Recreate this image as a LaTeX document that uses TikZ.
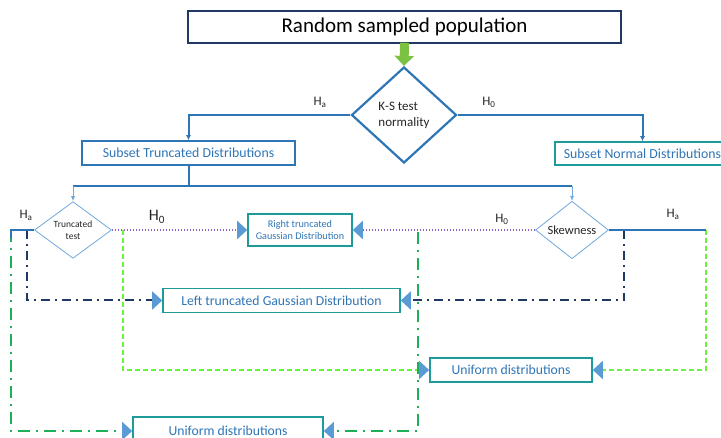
\documentclass[tikz,border=0pt]{standalone}
\usepackage{fontspec}
\setmainfont{Carlito}
\usetikzlibrary{positioning}
\usetikzlibrary{shapes.geometric}
\usetikzlibrary{arrows.meta}

\definecolor{navy}{HTML}{1F3864}
\definecolor{lineblue}{HTML}{2E75B6}
\definecolor{thinblue}{HTML}{6FA8DC}
\definecolor{tipblue}{HTML}{5B9BD5}
\definecolor{boxteal}{HTML}{1F9A9A}
\definecolor{purp}{HTML}{9060C8}
\definecolor{lgreen}{HTML}{6CF03C}
\definecolor{dgreen}{HTML}{1DB05A}
\definecolor{fatgreen}{HTML}{7CC242}

\begin{document}
\begin{tikzpicture}[x=1pt, y=-1pt,
    box/.style={draw=boxteal, line width=1.6pt, text=lineblue, align=center, inner sep=0pt},
    dec/.style={diamond, draw=thinblue, line width=0.8pt, text=black!85, align=center, inner sep=0pt},
    lab/.style={text=black!85, font=\fontsize{13}{15}\selectfont},
    bigtip/.style={-{Triangle[width=18pt,length=10pt,color=tipblue,fill=tipblue]}},
    solidblue/.style={draw=lineblue, line width=2pt},
    dotline/.style={bigtip, draw=purp, line width=2pt, dash pattern=on 1.5pt off 1.5pt},
    ndashdot/.style={bigtip, draw=navy, line width=2pt, dash pattern=on 9pt off 5pt on 2pt off 5pt},
    gdashdot/.style={bigtip, draw=dgreen, line width=1.7pt, dash pattern=on 12pt off 6pt on 2pt off 6pt},
    ldashed/.style={bigtip, draw=lgreen, line width=1.6pt, dash pattern=on 5pt off 3pt}]
    \useasboundingbox (0,0) rectangle (721,438);

    \node [draw=navy, line width=2.4pt, minimum width=433pt, minimum height=32pt, inner sep=0pt,
        font=\fontsize{21}{25}\selectfont] (pop) at (404.5,27) {Random sampled population};
    \node [diamond, draw=lineblue, line width=2.2pt, minimum width=105pt, minimum height=96pt,
        inner sep=0pt, align=left, text=black!85, font=\fontsize{13}{16}\selectfont] (ks) at (404,115) {K-S test\\normality};

    \node [box, draw=lineblue, minimum width=213pt, minimum height=24pt,
        font=\fontsize{13.8}{16}\selectfont] (strunc) at (188.5,153) {Subset Truncated Distributions};
    \node [box, minimum width=175pt, minimum height=23pt,
        font=\fontsize{13.8}{16}\selectfont] (snorm) at (642.5,153.5) {Subset Normal Distributions};

    \node [dec, minimum width=77pt, minimum height=44pt, font=\fontsize{9.5}{11.5}\selectfont] (tt) at (73,230) {Truncated\\test};
    \node [dec, minimum width=73pt, minimum height=46pt, font=\fontsize{12.5}{14}\selectfont] (sk) at (572,230) {Skewness};

    \node [box, minimum width=104pt, minimum height=32pt, font=\fontsize{10.2}{12.5}\selectfont] (rt) at (300,230) {Right truncated\\Gaussian Distribution};
    \node [box, minimum width=237pt, minimum height=24pt, font=\fontsize{13.7}{16}\selectfont] (lt) at (281.5,300.5) {Left truncated Gaussian Distribution};
    \node [box, minimum width=162pt, minimum height=24pt, font=\fontsize{13.7}{16}\selectfont] (um) at (511,370) {Uniform distributions};
    \node [box, minimum width=190pt, minimum height=28pt, font=\fontsize{13.7}{16}\selectfont] (ub) at (228,431) {Uniform distributions};

    % labels of the branches
    \node [lab] (la1) at (320,102) {H\textsubscript{a}};
    \node [lab] (la2) at (489,102) {H\textsubscript{0}};
    \node [lab] (la3) at (26,215) {H\textsubscript{a}};
    \node [lab, font=\fontsize{16}{18}\selectfont] (la4) at (157,217) {H\textsubscript{0}};
    \node [lab] (la5) at (502,219) {H\textsubscript{0}};
    \node [lab] (la6) at (673,214) {H\textsubscript{a}};

    \draw [line width=9pt, fatgreen, -{Triangle[width=19pt,length=10pt]}] ([yshift=1.5pt]pop.south) -- (ks.north);
    \draw [solidblue, -{Latex[length=5pt,width=5pt]}] (ks.west) -| (strunc.north);
    \draw [solidblue, -{Latex[length=5pt,width=5pt]}] (ks.east) -| (snorm.north);

    \draw [solidblue] (strunc.south) -- ++(0,20) coordinate (j);
    \draw [solidblue] (tt.north |- j) -- (sk.north |- j);
    \draw [draw=thinblue, line width=0.8pt, -{Latex[length=5pt,width=4pt]}] (tt.north |- j) -- (tt.north);
    \draw [draw=thinblue, line width=0.8pt, -{Latex[length=5pt,width=4pt]}] (sk.north |- j) -- (sk.north);

    \draw [dotline] (tt.east) -- (rt.west);
    \draw [dotline] (sk.west) -- (rt.east);

    \coordinate (c1) at (11,230);
    \coordinate (c2) at (27,230);
    \coordinate (c3) at (123,230);
    \coordinate (c4) at (706,230);
    \coordinate (c5) at (624,230);
    \coordinate (c6) at (418,232);

    \draw [gdashdot] (c1) |- (ub.west);
    \draw [ndashdot] (c2) |- (lt.west);
    \draw [ldashed] (c3) |- (um.west);
    \draw [gdashdot] (c6) |- (ub.east);
    \draw [ndashdot] (c5) |- (lt.east);
    \draw [ldashed] (c4) |- (um.east);
    \draw [solidblue] (tt.west) -- (c1) -- ++(0,8);
    \draw [solidblue] (sk.east) -- (c4);
\end{tikzpicture}
\end{document}
